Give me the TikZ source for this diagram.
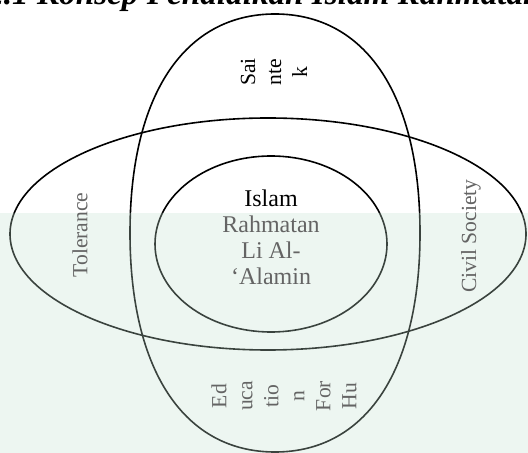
\documentclass[tikz,border=0pt]{standalone}
\usepackage{fontspec}
\setmainfont{Liberation Serif}
\definecolor{txtgray}{RGB}{100,100,100}
\definecolor{marktint}{RGB}{195,225,208}

\begin{document}
\begin{tikzpicture}[x=0.5pt,y=-0.5pt,
    ring/.style={line width=0.8pt},
    side/.style={rotate=90,align=center,inner sep=0,font=\fontsize{10.8}{13}\selectfont}]
\useasboundingbox (0,0) rectangle (528,453);
\begin{scope}
\clip (0,0) rectangle (528,453);
\node[anchor=base west,inner sep=0,font=\fontsize{16.6}{18}\selectfont\bfseries\itshape] (title) at (-38,5) {4.2.1 Konsep Pendidikan Islam Rahmatan};
\end{scope}
\coordinate (wide) at (268,234);
\coordinate (core) at (271,244);
\draw[ring] (275,14) .. controls (365,14) and (420,94) .. (420,233)
                     .. controls (420,372) and (365,452) .. (275,452)
                     .. controls (185,452) and (130,372) .. (130,233)
                     .. controls (130,94) and (185,14) .. cycle;
\draw[ring] (wide) ellipse [x radius=129pt, y radius=58pt];
\draw[ring] (core) ellipse [x radius=58pt, y radius=44pt];
\fill[marktint,opacity=0.3] (0,213) rectangle (528,453);
\node[side] (saintek) at (274,72) {Sai\\nte\\k};
\node[side,text=txtgray] (tolerance) at (80,235) {Tolerance};
\node[side,text=txtgray] (civil) at (471,236) {Civil Society};
\node[side,text=txtgray] (edu) at (284,396) {Ed\\uca\\tio\\n\\For\\Hu};
\node[align=center,inner sep=0,text=txtgray,font=\fontsize{12}{13}\selectfont] (islam) at (271,237) {\textcolor{black}{Islam}\\Rahmatan\\Li Al-\\‘Alamin};
\end{tikzpicture}
\end{document}
